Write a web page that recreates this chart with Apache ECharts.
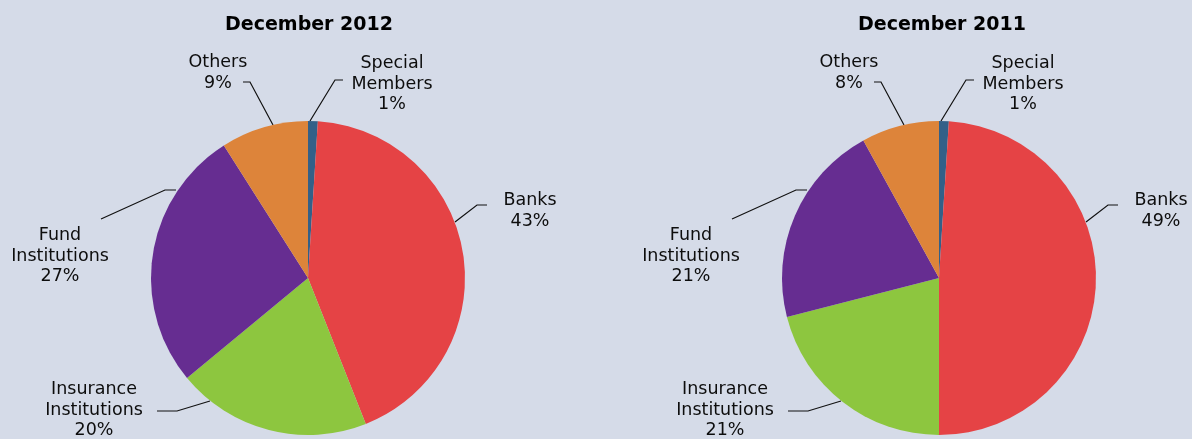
<!DOCTYPE html>
<html>
<head>
<meta charset="utf-8">
<script src="https://cdn.jsdelivr.net/npm/echarts@6/dist/echarts.min.js"></script>
<style>
html,body{margin:0;padding:0;background:#d5dbe8;}
#chart{width:1192px;height:439px;}
</style>
</head>
<body>
<div id="chart"></div>
<script>
// ---- data ----
const categories = ['Special Members', 'Banks', 'Insurance Institutions', 'Fund Institutions', 'Others'];
const titles = ['December 2012', 'December 2011'];
const values2012 = [1, 43, 20, 27, 9];
const values2011 = [1, 49, 21, 21, 8];

// ---- styling / layout ----
const colors = ['#336088', '#e54345', '#8dc63f', '#662d91', '#dd843a'];
const pieCenters = [[308, 278], [939, 278]];
const titleX = [304, 937];
const pieRadius = 157;
// label centre offsets from pie centre, and leader line points (relative to pie centre)
const labelOffsets = [[84, -194], [222, -67], [-214, 132], [-248, -22], [-90, -205]];
const leaderLines = [
  [[2, -157], [27, -198], [35, -198]],
  [[147, -56], [169, -73], [179, -73]],
  [[-98, 123], [-131, 133], [-151, 133]],
  [[-132, -88], [-143, -88], [-207, -59]],
  [[-35, -153], [-58, -196], [-65, -196]]
];
const FONT = '"DejaVu Sans", Verdana, sans-serif';

function makeSeries(values, idx) {
  const c = pieCenters[idx];
  return {
    type: 'pie',
    center: c,
    radius: pieRadius,
    startAngle: 90,
    clockwise: true,
    silent: true,
    animation: false,
    data: categories.map((n, i) => ({ name: n, value: values[i], itemStyle: { color: colors[i] } })),
    itemStyle: { borderWidth: 0 },
    label: {
      show: true,
      position: 'outside',
      fontFamily: FONT,
      fontSize: 17.5,
      color: '#0d0d0d',
      lineHeight: 20.5,
      align: 'center',
      formatter: p => p.name.split(' ').join('\n') + '\n' + Math.round(p.percent) + '%'
    },
    labelLine: { show: true, lineStyle: { color: '#111', width: 1.2 }, length: 10, length2: 10 },
    labelLayout: function (params) {
      const i = params.dataIndex;
      const o = labelOffsets[i];
      return {
        x: c[0] + o[0],
        y: c[1] + o[1],
        align: 'center',
        verticalAlign: 'middle',
        labelLinePoints: leaderLines[i].map(p => [c[0] + p[0], c[1] + p[1]])
      };
    }
  };
}

const chart = echarts.init(document.getElementById('chart'), null, { renderer: 'canvas' });
chart.setOption({
  backgroundColor: '#d5dbe8',
  animation: false,
  title: titles.map((t, i) => ({
    text: t,
    left: titleX[i],
    top: 11,
    textAlign: 'center',
    textStyle: { fontFamily: FONT, fontSize: 19, fontWeight: 'bold', color: '#000' }
  })),
  series: [makeSeries(values2012, 0), makeSeries(values2011, 1)]
});
</script>
</body>
</html>
